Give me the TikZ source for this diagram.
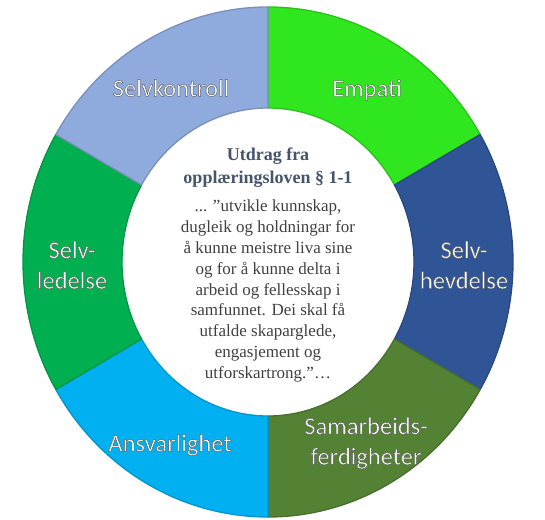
\documentclass[tikz,border=0pt]{standalone}
\usepackage{fontspec}
\setmainfont{Liberation Serif}
\newfontfamily\calfont{Carlito}
\usepackage{tikz}
\usetikzlibrary{positioning}

\definecolor{empati}{RGB}{48,230,30}
\definecolor{hevd}{RGB}{47,85,151}
\definecolor{samarb}{RGB}{84,130,53}
\definecolor{ansvar}{RGB}{0,176,240}
\definecolor{ledelse}{RGB}{0,176,80}
\definecolor{kontroll}{RGB}{143,170,220}
\definecolor{titleblue}{RGB}{68,84,106}
\definecolor{bodygray}{RGB}{64,64,64}

% outlined white text (fill + stroke)
\newcommand{\seglbl}[1]{\special{pdf:literal direct 2 Tr 0.45 w 0.35 0.35 0.35 RG}#1\special{pdf:literal direct 0 Tr}}

\begin{document}
\begin{tikzpicture}[x=1pt,y=1pt,
  seg/.style={line width=1.3pt, line join=round},
  lbl/.style={text=white, font=\calfont\fontsize{24.5}{30.5}\selectfont, align=center},
  ttl/.style={text=titleblue, font=\bfseries\fontsize{18}{23}\selectfont, align=center},
  body/.style={text=bodygray, font=\fontsize{17}{20.9}\selectfont, align=center}]
  \useasboundingbox (0,0) rectangle (545,519);
  \coordinate (c) at (268,257);
  % ring
  \begin{scope}[shift={(c)}]
    \foreach \a/\b/\col in {90/30/empati, 30/-30/hevd, -30/-90/samarb,
                            -90/-150/ansvar, -150/-210/ledelse, 150/90/kontroll}
      \draw[seg, fill=\col, draw=\col!85!black]
        (\a:245pt and 255pt) arc[start angle=\a, end angle=\b, x radius=245pt, y radius=255pt]
        -- (\b:146pt and 154pt) arc[start angle=\b, end angle=\a, x radius=146pt, y radius=154pt]
        -- cycle;
  \end{scope}
  % segment labels
  \node[lbl] (lkon) at (171,431) {\seglbl{Selvkontroll}};
  \node[lbl] (lemp) at (367,429) {\seglbl{Empati}};
  \node[lbl] (lhev) at (464,254) {\seglbl{Selv-}\\\seglbl{hevdelse}};
  \node[lbl] (lled) at (72,254)  {\seglbl{Selv-}\\\seglbl{ledelse}};
  \node[lbl] (lsam) at (366,76)  {\seglbl{Samarbeids-}\\\seglbl{ferdigheter}};
  \node[lbl] (lans) at (170,74)  {\seglbl{Ansvarlighet}};
  % centre text
  \node[ttl] (title) at (268,351) {Utdrag fra\\opplæringsloven § 1-1};
  \node[body] (quote) at (268,228)
    {... ”utvikle kunnskap,\\dugleik og holdningar for\\å kunne meistre liva sine\\og for å kunne delta i\\arbeid og fellesskap i\\samfunnet. Dei skal få\\utfalde skaparglede,\\engasjement og\\utforskartrong.”…};
\end{tikzpicture}
\end{document}
